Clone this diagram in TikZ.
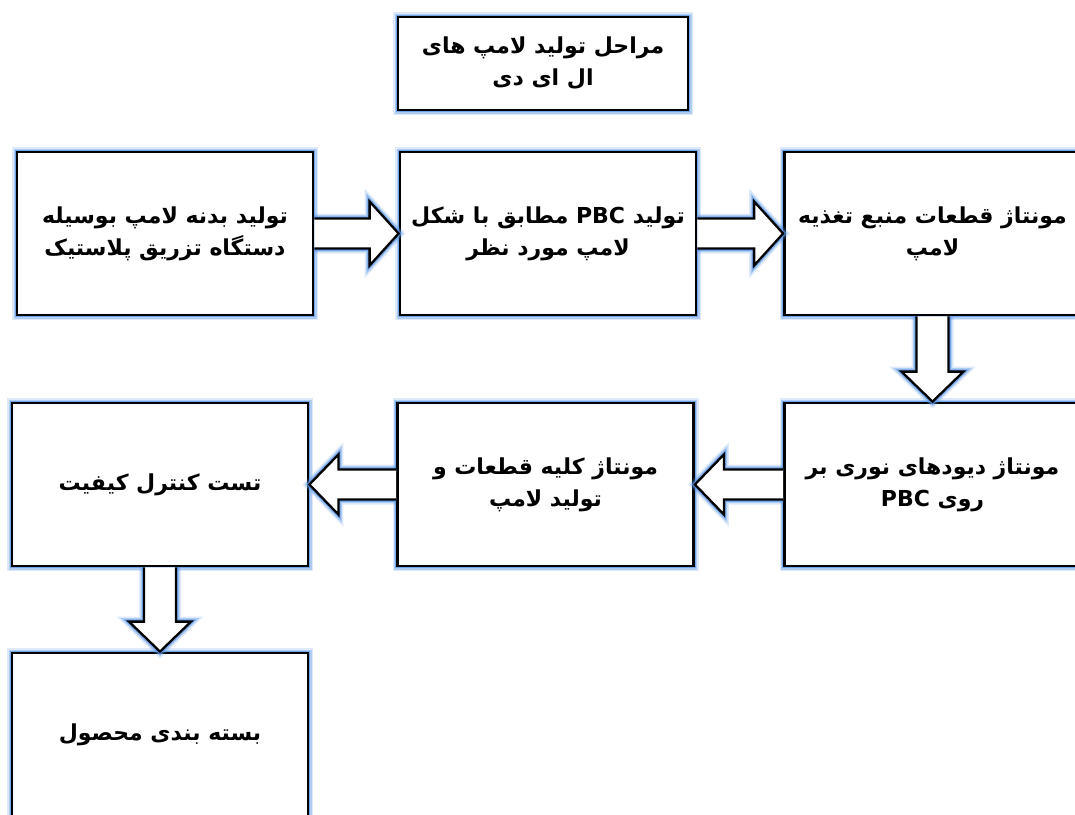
\documentclass[tikz,border=0pt]{standalone}
\usepackage{fontspec}
\usetikzlibrary{calc}
\TeXXeTstate=1
\newfontfamily\fa[Script=Arabic]{DejaVu Sans}
\definecolor{glowc}{RGB}{90,150,230}
\tikzset{
  glow/.style={preaction={draw=glowc,line width=10pt,draw opacity=0.2},
               preaction={draw=glowc,line width=7pt,draw opacity=0.35},
               preaction={draw=glowc,line width=4.5pt,draw opacity=0.7}},
  stepbox/.style={glow,draw=black,line width=2.8pt,fill=white,
     minimum width=296pt,minimum height=163pt,align=center,
     font=\fa\bfseries\fontsize{22}{32}\selectfont},
  titlebox/.style={glow,draw=black,line width=2.8pt,fill=white,
     minimum width=290pt,minimum height=93pt,align=center,
     font=\fa\bfseries\fontsize{22}{32}\selectfont},
  barrow/.style={glow,draw=black,line width=2.3pt,fill=white,line join=miter}
}
\newcommand{\rl}[1]{\beginR #1\endR}
\begin{document}
\begin{tikzpicture}[x=1pt,y=-1pt]
\useasboundingbox (0,0) rectangle (1075,814);
\fill[white] (0,0) rectangle (1075,814);
\node[titlebox] (t) at (543,63.5) {\rl{مراحل تولید لامپ های}\\\rl{ال ای دی}};
\node[stepbox] (b1) at (165,233.5) {\rl{تولید بدنه لامپ بوسیله}\\\rl{دستگاه تزریق پلاستیک}};
\node[stepbox] (b2) at (548,233.5) {\rl{تولید \beginL PBC\endL{} مطابق با شکل}\\\rl{لامپ مورد نظر}};
\node[stepbox] (b3) at (932.5,233.5) {\rl{مونتاژ قطعات منبع تغذیه}\\\rl{لامپ}};
\node[stepbox] (b4) at (932.5,484.5) {\rl{مونتاژ دیودهای نوری بر}\\\rl{روی \beginL PBC\endL}};
\node[stepbox] (b5) at (545.5,484.5) {\rl{مونتاژ کلیه قطعات و}\\\rl{تولید لامپ}};
\node[stepbox] (b6) at (160,484.5) {\rl{تست کنترل کیفیت}};
\node[stepbox] (b7) at (160,734.5) {\rl{بسته بندی محصول}};
% horizontal arrows (left to right)
\foreach \a/\b in {b1/b2,b2/b3}{
  \draw[barrow] ($(\a.east)+(0,-15)$) -- ($(\b.west)+(-29,-15)$) -- ($(\b.west)+(-29,-32)$)
    -- (\b.west) -- ($(\b.west)+(-29,32)$) -- ($(\b.west)+(-29,15)$) -- ($(\a.east)+(0,15)$);
}
% horizontal arrows (right to left)
\foreach \a/\b in {b4/b5,b5/b6}{
  \draw[barrow] ($(\a.west)+(0,-15)$) -- ($(\b.east)+(29,-15)$) -- ($(\b.east)+(29,-30)$)
    -- (\b.east) -- ($(\b.east)+(29,30)$) -- ($(\b.east)+(29,15)$) -- ($(\a.west)+(0,15)$);
}
% vertical arrows (downwards)
\foreach \a/\b in {b3/b4,b6/b7}{
  \draw[barrow] ($(\a.south)+(-16,0)$) -- ($(\b.north)+(-16,-30)$) -- ($(\b.north)+(-31,-30)$)
    -- (\b.north) -- ($(\b.north)+(31,-30)$) -- ($(\b.north)+(16,-30)$) -- ($(\a.south)+(16,0)$);
}
\end{tikzpicture}
\end{document}
